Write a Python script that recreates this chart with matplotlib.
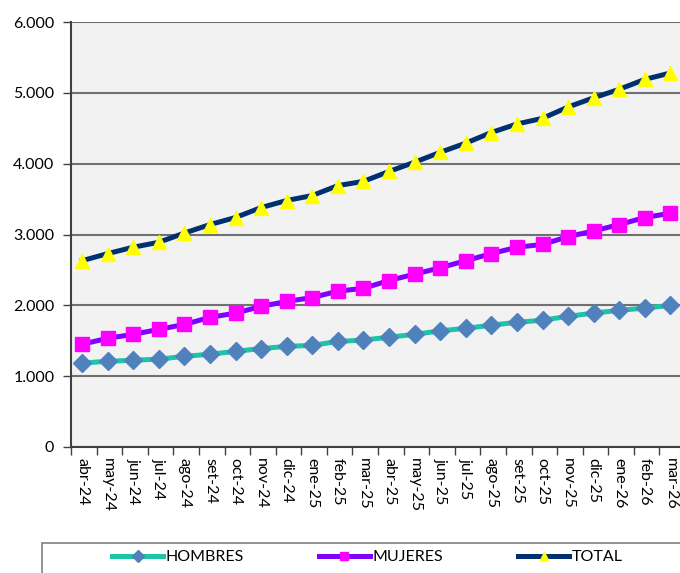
import numpy as np
import matplotlib
matplotlib.use("Agg")
import matplotlib.pyplot as plt
from matplotlib.patches import Rectangle
from matplotlib.ticker import FuncFormatter

plt.rcParams['font.family'] = ['Lato', 'DejaVu Sans']

months = ['abr-24', 'may-24', 'jun-24', 'jul-24', 'ago-24', 'set-24', 'oct-24', 'nov-24',
          'dic-24', 'ene-25', 'feb-25', 'mar-25', 'abr-25', 'may-25', 'jun-25', 'jul-25',
          'ago-25', 'set-25', 'oct-25', 'nov-25', 'dic-25', 'ene-26', 'feb-26', 'mar-26']

hombres = [1185, 1210, 1225, 1240, 1280, 1310, 1350, 1390, 1420, 1435, 1490, 1510,
           1550, 1590, 1640, 1675, 1720, 1760, 1790, 1845, 1890, 1930, 1960, 2000]
mujeres = [1450, 1535, 1590, 1660, 1730, 1830, 1890, 1985, 2055, 2110, 2200, 2240,
           2350, 2440, 2530, 2630, 2730, 2820, 2860, 2970, 3050, 3140, 3240, 3300]
total = [2630, 2730, 2820, 2890, 3020, 3140, 3240, 3380, 3480, 3550, 3690, 3750,
         3890, 4020, 4160, 4290, 4440, 4560, 4640, 4800, 4930, 5050, 5190, 5280]

W, H = 680, 573
fig = plt.figure(figsize=(W / 100, H / 100), dpi=100)
# plot area runs past the right edge like in the source image
ax = fig.add_axes([71 / W, 1 - 447 / H, 614 / W, 425 / H])
ax.set_facecolor('#F2F2F2')

x = np.arange(len(months))
ax.plot(x, hombres, color='#1CC4A8', lw=3.6, marker='D', ms=9.5,
        mfc='#4F81BD', mec='#4F81BD', label='HOMBRES', zorder=3)
ax.plot(x, mujeres, color='#8000FF', lw=3.6, marker='s', ms=9.5,
        mfc='#FF00FF', mec='#FF00FF', label='MUJERES', zorder=3)
ax.plot(x, total, color='#003070', lw=3.6, marker='^', ms=10,
        mfc='#FFFF00', mec='#FFFF00', label='TOTAL', zorder=3)

ax.set_xlim(-0.43, 23.5)
ax.set_ylim(0, 6000)
ax.set_yticks(range(0, 6001, 1000))
ax.yaxis.set_major_formatter(FuncFormatter(lambda v, p: f"{int(v):,}".replace(',', '.')))
ax.grid(axis='y', color='#707070', lw=1.5, zorder=1)
ax.set_axisbelow(True)

ax.set_xticks(x)
ax.set_xticklabels(months, rotation=270, fontsize=11.5, va='top', ha='center')
ax.set_xticks(np.arange(-0.43, 23.6, 1), minor=True)
ax.tick_params(axis='x', which='major', length=0, pad=8)
ax.tick_params(axis='x', which='minor', length=6, width=1, color='#404040', direction='out')
ax.tick_params(axis='y', length=6, width=1, color='#404040', labelsize=11.5, pad=6)

for s in ['top', 'right']:
    ax.spines[s].set_visible(False)
ax.spines['left'].set_color('#404040')
ax.spines['left'].set_linewidth(1.5)
ax.spines['bottom'].set_color('#404040')
ax.spines['bottom'].set_linewidth(1.5)

# legend box, cut off at the bottom/right
fig.patches.append(Rectangle((42 / W, -0.1), 1.0, 0.1 + 30 / H, transform=fig.transFigure,
                             fill=False, edgecolor='#808080', lw=1.2))
fig.legend(loc='center left', bbox_to_anchor=(112 / W, 1 - 557 / H), ncol=3,
           frameon=False, fontsize=11.5, handlelength=3.2, handletextpad=0.15,
           columnspacing=4.7, borderpad=0, borderaxespad=0, markerscale=0.6)

fig.savefig('out.png', dpi=100)
